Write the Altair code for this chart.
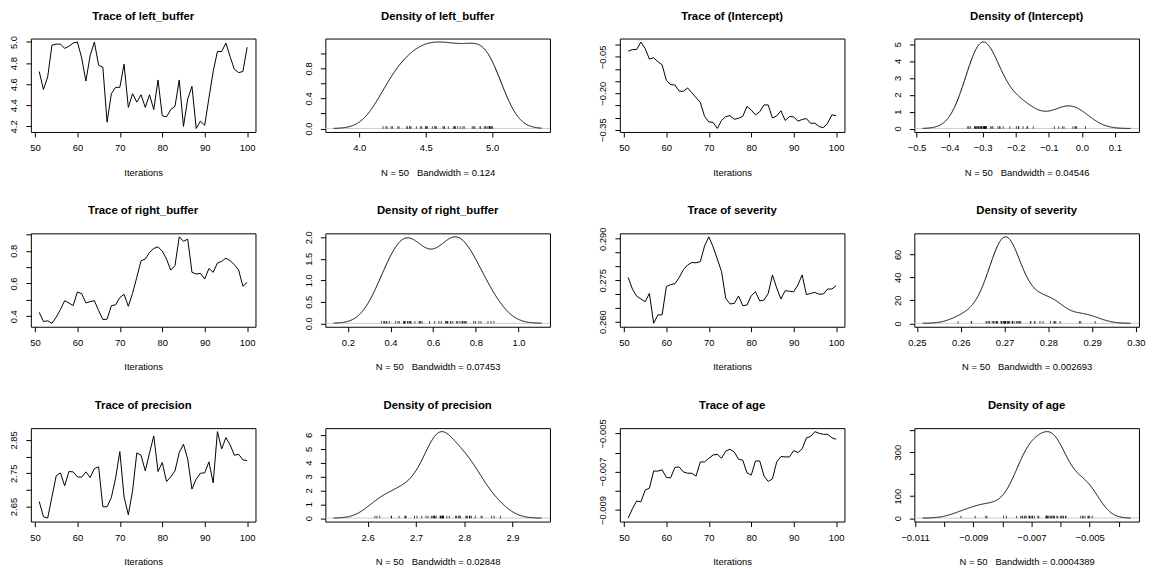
import altair as alt
import pandas as pd

iterations = list(range(51, 101))

left_buffer = [4.72, 4.55, 4.67, 4.97, 4.98, 4.98, 4.94, 4.96, 4.99, 5.00,
               4.85, 4.63, 4.87, 5.00, 4.78, 4.76, 4.24, 4.51, 4.57, 4.57,
               4.79, 4.38, 4.51, 4.43, 4.50, 4.38, 4.50, 4.36, 4.64, 4.30,
               4.29, 4.36, 4.39, 4.64, 4.20, 4.46, 4.58, 4.18, 4.25, 4.21,
               4.47, 4.72, 4.91, 4.91, 4.99, 4.86, 4.74, 4.71, 4.72, 4.95]

intercept = [-0.027, -0.020, -0.020, 0.011, -0.016, -0.059, -0.054, -0.070, -0.083, -0.147,
             -0.164, -0.166, -0.191, -0.192, -0.178, -0.198, -0.218, -0.238, -0.295, -0.318,
             -0.320, -0.345, -0.312, -0.296, -0.292, -0.307, -0.303, -0.295, -0.254, -0.269,
             -0.289, -0.276, -0.248, -0.248, -0.302, -0.293, -0.272, -0.312, -0.296, -0.297,
             -0.315, -0.308, -0.304, -0.324, -0.323, -0.337, -0.342, -0.323, -0.289, -0.292]

right_buffer = [0.424, 0.368, 0.372, 0.357, 0.394, 0.441, 0.495, 0.481, 0.465, 0.548,
                0.538, 0.481, 0.489, 0.495, 0.435, 0.380, 0.382, 0.465, 0.469, 0.514,
                0.534, 0.461, 0.540, 0.638, 0.739, 0.749, 0.790, 0.814, 0.824, 0.798,
                0.749, 0.682, 0.709, 0.885, 0.857, 0.871, 0.668, 0.658, 0.662, 0.627,
                0.692, 0.668, 0.725, 0.735, 0.755, 0.739, 0.715, 0.682, 0.583, 0.607]

severity = [0.2760, 0.2718, 0.2692, 0.2682, 0.2672, 0.2702, 0.2594, 0.2624, 0.2625, 0.2727,
            0.2734, 0.2737, 0.2759, 0.2788, 0.2805, 0.2814, 0.2813, 0.2817, 0.2874, 0.2907,
            0.2871, 0.2827, 0.2781, 0.2684, 0.2664, 0.2666, 0.2693, 0.2658, 0.2660, 0.2694,
            0.2708, 0.2675, 0.2678, 0.2702, 0.2769, 0.2722, 0.2682, 0.2712, 0.2710, 0.2708,
            0.2733, 0.2769, 0.2698, 0.2702, 0.2706, 0.2699, 0.2700, 0.2718, 0.2718, 0.2730]

precision = [2.665, 2.619, 2.615, 2.679, 2.742, 2.751, 2.712, 2.755, 2.754, 2.739,
             2.738, 2.754, 2.737, 2.764, 2.769, 2.649, 2.649, 2.677, 2.735, 2.815,
             2.679, 2.625, 2.697, 2.811, 2.804, 2.757, 2.811, 2.862, 2.755, 2.782,
             2.725, 2.739, 2.757, 2.812, 2.837, 2.792, 2.702, 2.732, 2.750, 2.751,
             2.784, 2.721, 2.875, 2.823, 2.857, 2.835, 2.804, 2.807, 2.790, 2.788]

age = [-0.00942, -0.00893, -0.00853, -0.00857, -0.00796, -0.00786, -0.00696, -0.00697, -0.00690, -0.00730,
       -0.00732, -0.00678, -0.00675, -0.00701, -0.00708, -0.00708, -0.00723, -0.00649, -0.00649, -0.00630,
       -0.00613, -0.00609, -0.00630, -0.00592, -0.00583, -0.00597, -0.00635, -0.00640, -0.00706, -0.00718,
       -0.00644, -0.00644, -0.00722, -0.00751, -0.00737, -0.00649, -0.00621, -0.00623, -0.00623, -0.00590,
       -0.00600, -0.00581, -0.00524, -0.00516, -0.00491, -0.00500, -0.00505, -0.00505, -0.00523, -0.00531]

bandwidths = [0.124, 0.04546, 0.07453, 0.002693, 0.02848, 0.0004389]
bandwidth_labels = ["0.124", "0.04546", "0.07453", "0.002693", "0.02848", "0.0004389"]
names = ["left_buffer", "(Intercept)", "right_buffer", "severity", "precision", "age"]
series = [left_buffer, intercept, right_buffer, severity, precision, age]

trace_x_ticks = [50, 60, 70, 80, 90, 100]

trace_y_ticks = [
    [4.2, 4.4, 4.6, 4.8, 5.0],
    [-0.35, -0.30, -0.25, -0.20, -0.15, -0.10, -0.05, 0.0],
    [0.4, 0.5, 0.6, 0.7, 0.8, 0.9],
    [0.260, 0.265, 0.270, 0.275, 0.280, 0.285, 0.290],
    [2.65, 2.70, 2.75, 2.80, 2.85],
    [-0.009, -0.008, -0.007, -0.006, -0.005],
]
trace_y_labeled = [
    [4.2, 4.4, 4.6, 4.8, 5.0],
    [-0.35, -0.20, -0.05],
    [0.4, 0.6, 0.8],
    [0.260, 0.275, 0.290],
    [2.65, 2.75, 2.85],
    [-0.009, -0.007, -0.005],
]
trace_y_fmt = [".1f", ".2f", ".1f", ".3f", ".2f", ".3f"]

dens_x_ticks = [
    [4.0, 4.5, 5.0],
    [-0.5, -0.4, -0.3, -0.2, -0.1, 0.0, 0.1],
    [0.2, 0.4, 0.6, 0.8, 1.0],
    [0.25, 0.26, 0.27, 0.28, 0.29, 0.30],
    [2.6, 2.7, 2.8, 2.9],
    [-0.011, -0.010, -0.009, -0.008, -0.007, -0.006, -0.005, -0.004],
]
dens_x_labeled = [
    [4.0, 4.5, 5.0],
    [-0.5, -0.4, -0.3, -0.2, -0.1, 0.0, 0.1],
    [0.2, 0.4, 0.6, 0.8, 1.0],
    [0.25, 0.26, 0.27, 0.28, 0.29, 0.30],
    [2.6, 2.7, 2.8, 2.9],
    [-0.011, -0.009, -0.007, -0.005],
]
dens_x_fmt = [".1f", ".1f", ".1f", ".2f", ".1f", ".3f"]

dens_y_ticks = [
    [0.0, 0.2, 0.4, 0.6, 0.8, 1.0],
    [0, 1, 2, 3, 4, 5],
    [0.0, 0.5, 1.0, 1.5, 2.0],
    [0, 20, 40, 60],
    [0, 1, 2, 3, 4, 5, 6],
    [0, 100, 200, 300, 400],
]
dens_y_labeled = [
    [0.0, 0.4, 0.8],
    [0, 1, 2, 3, 4, 5],
    [0.0, 0.5, 1.0, 1.5, 2.0],
    [0, 20, 40, 60],
    [0, 1, 2, 3, 4, 5, 6],
    [0, 100, 300],
]
dens_y_fmt = [".1f", "d", ".1f", "d", "d", "d"]

W, H = 226, 94
XPAD, YPAD = 8.4, 3.5
FONT = "Liberation Sans"


def label_expr(labeled):
    return "indexof([%s], datum.value) >= 0 ? datum.label : ''" % ",".join(repr(v) for v in labeled)


def x_axis(values, labeled, fmt, title):
    return alt.Axis(values=values, format=fmt, labelExpr=label_expr(labeled), title=title,
                    labelAngle=0, labelAlign="center", labelBaseline="top")


def y_axis(values, labeled, fmt):
    return alt.Axis(values=values, format=fmt, labelExpr=label_expr(labeled), title=None,
                    labelAngle=-90, labelAlign="center", labelBaseline="bottom", labelPadding=7)


def title_layer(text):
    return alt.Chart(pd.DataFrame({"label": [text]})).mark_text(
        font=FONT, fontSize=11.4, fontWeight="bold", color="black",
        align="center", baseline="middle"
    ).encode(text="label:N", x=alt.value(W / 2), y=alt.value(-22))


def trace_panel(i):
    df = pd.DataFrame({"iteration": iterations, "value": series[i]})
    line = alt.Chart(df).mark_line(color="black", strokeWidth=1).encode(
        x=alt.X("iteration:Q", scale=alt.Scale(zero=False, nice=False, padding=XPAD),
                axis=x_axis(trace_x_ticks, trace_x_ticks, "d", "Iterations")),
        y=alt.Y("value:Q", scale=alt.Scale(zero=False, nice=False, padding=YPAD),
                axis=y_axis(trace_y_ticks[i], trace_y_labeled[i], trace_y_fmt[i])),
    )
    return alt.layer(line, title_layer("Trace of " + names[i])).properties(width=W, height=H)


def density_panel(i):
    vals = series[i]
    bw = bandwidths[i]
    df = pd.DataFrame({"value": vals, "zero": [0] * len(vals)})
    lo = min(vals) - 3 * bw
    hi = max(vals) + 3 * bw
    xs = alt.Scale(zero=False, nice=False, padding=XPAD)
    ys = alt.Scale(nice=False, padding=YPAD)
    xt = "N = 50\u00a0\u00a0 Bandwidth = " + bandwidth_labels[i]
    xa = x_axis(dens_x_ticks[i], dens_x_labeled[i], dens_x_fmt[i], xt)
    ya = y_axis(dens_y_ticks[i], dens_y_labeled[i], dens_y_fmt[i])
    curve = alt.Chart(df).transform_density(
        "value", as_=["value", "density"], bandwidth=bw, extent=[lo, hi], steps=512
    ).mark_line(color="black", strokeWidth=1).encode(
        x=alt.X("value:Q", scale=xs, axis=xa),
        y=alt.Y("density:Q", scale=ys, axis=ya),
    )
    zero_line = alt.Chart(pd.DataFrame({"zero": [0]})).mark_rule(
        color="#bebebe", strokeWidth=0.8
    ).encode(y=alt.Y("zero:Q", scale=ys, axis=ya))
    rug = alt.Chart(df).mark_tick(color="black", size=2.5, thickness=1, orient="vertical", yOffset=-1).encode(
        x=alt.X("value:Q", scale=xs, axis=xa),
        y=alt.Y("zero:Q", scale=ys, axis=ya),
    )
    return alt.layer(zero_line, curve, rug, title_layer("Density of " + names[i])).properties(
        width=W, height=H)


panels = []
for i in range(6):
    panels.append(trace_panel(i))
    panels.append(density_panel(i))

chart = alt.concat(
    *panels, columns=4, spacing=alt.RowColnumber(row=102, column=70.3), bounds="flush"
).configure_view(
    stroke="black", strokeWidth=1
).configure_axis(
    grid=False, domain=False, tickColor="black", tickSize=5, tickWidth=1,
    labelColor="black", labelFont=FONT, labelFontSize=9.5, labelPadding=6,
    labelOverlap=False, labelFlush=False, labelBound=False,
    titleFont=FONT, titleFontSize=9.5, titleFontWeight="normal", titleColor="black",
    titlePadding=15,
).properties(background="white", padding=0)

chart.save("out.html", embed_options={"renderer": "svg", "actions": False})
